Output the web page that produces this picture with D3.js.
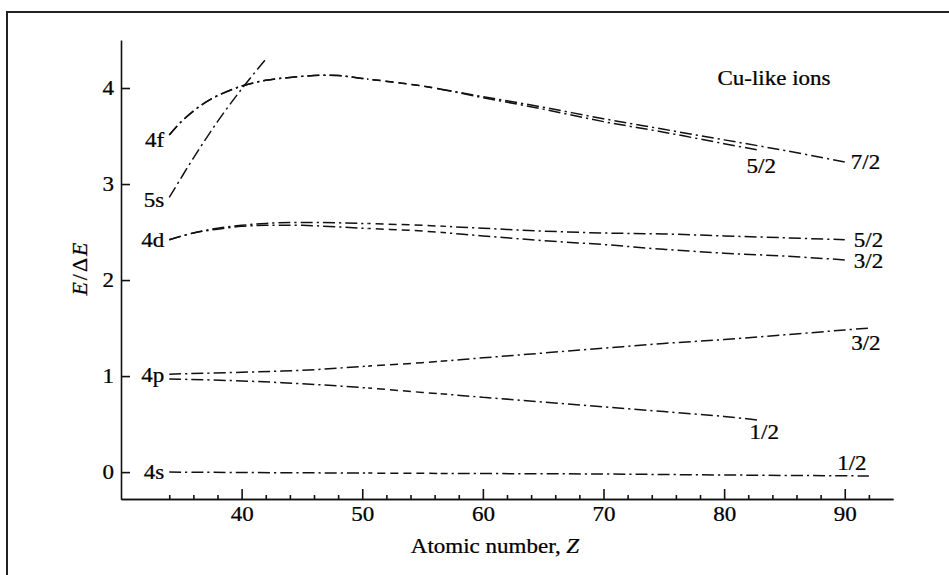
<!DOCTYPE html>
<html lang="en">
<head>
<meta charset="UTF-8">
<title>Cu-like ions</title>
<script src="https://d3js.org/d3.v7.min.js"></script>
<style>
    body { margin: 0; background: #fff; }
    svg { display: block; font-family: "Liberation Serif", "DejaVu Serif", serif; }
    .frame { fill: none; stroke: #222; stroke-width: 2px; }
    .curve { fill: none; stroke: #111; stroke-width: 1.5px; }
    .dashdot { stroke-dasharray: 12,4,2.2,4; }
    .dashed { stroke-dasharray: 8,5; }
    .axis path, .axis line { stroke: #111; stroke-width: 1.6px; }
    .axis text { font-size: 20px; fill: #000; stroke: #000; stroke-width: 0.25px; font-family: "Liberation Serif", serif; }
    .lbl { font-size: 20px; fill: #000; stroke: #000; stroke-width: 0.25px; }
</style>
</head>
<body>
<svg id="chart"></svg>
<script>
    const width = 949, height = 575;

    // values (Z, E/ΔE)
    const z4f = [34, 35, 36, 37, 38, 40, 42, 44, 46, 48, 50, 55, 60, 65, 70, 75, 80, 85, 90];
    const e4f72 = [3.51, 3.65, 3.76, 3.85, 3.92, 4.02, 4.08, 4.11, 4.13, 4.13, 4.10, 4.02, 3.91, 3.80, 3.68, 3.57, 3.46, 3.35, 3.23];
    const z4f52 = [34, 35, 36, 37, 38, 40, 42, 44, 46, 48, 50, 55, 60, 65, 70, 75, 80, 83];
    const e4f52 = [3.51, 3.65, 3.76, 3.85, 3.92, 4.02, 4.08, 4.11, 4.13, 4.13, 4.10, 4.02, 3.90, 3.78, 3.65, 3.54, 3.42, 3.35];
    const z5s = [34, 36, 38, 40, 42];
    const e5s = [2.86, 3.27, 3.65, 3.99, 4.30];
    const z4d = [34, 36, 38, 40, 42, 45, 50, 55, 60, 65, 70, 75, 80, 85, 90];
    const e4d52 = [2.42, 2.49, 2.54, 2.57, 2.59, 2.60, 2.59, 2.57, 2.54, 2.51, 2.49, 2.48, 2.46, 2.44, 2.42];
    const e4d32 = [2.42, 2.49, 2.53, 2.56, 2.57, 2.57, 2.54, 2.51, 2.46, 2.41, 2.37, 2.32, 2.28, 2.25, 2.21];
    const z4p32 = [34, 40, 45, 50, 55, 60, 65, 70, 75, 80, 85, 90, 92];
    const e4p32 = [1.02, 1.04, 1.06, 1.10, 1.14, 1.19, 1.24, 1.29, 1.34, 1.38, 1.43, 1.48, 1.50];
    const z4p12 = [34, 40, 45, 50, 55, 60, 65, 70, 75, 80, 83];
    const e4p12 = [0.97, 0.95, 0.92, 0.88, 0.83, 0.78, 0.73, 0.68, 0.63, 0.58, 0.54];
    const z4s = [34, 50, 60, 70, 80, 92];
    const e4s = [0, -0.01, -0.015, -0.02, -0.03, -0.04];

    const majorTicks = [40, 50, 60, 70, 80, 90];
    const minorTicks = d3.range(34, 93, 2).filter(d => d % 10 !== 0);
    const yTicks = [0, 1, 2, 3, 4];

    const series = [
        { z: z4f, e: e4f72, left: "4f", right: "7/2" },
        { z: z4f52, e: e4f52, left: null, right: "5/2" },
        { z: z5s, e: e5s, left: "5s", right: null },
        { z: z4d, e: e4d52, left: "4d", right: "5/2" },
        { z: z4d, e: e4d32, left: null, right: "3/2" },
        { z: z4p32, e: e4p32, left: "4p", right: "3/2" },
        { z: z4p12, e: e4p12, left: null, right: "1/2" },
        { z: z4s, e: e4s, left: "4s", right: "1/2" }
    ];

    const x = d3.scaleLinear().domain([30, 94]).range([121, 893]);
    const y = d3.scaleLinear().domain([-0.28, 4.5]).range([499, 40]);

    const stretch = "scale(1.15,1)";

    const svg = d3.select("#chart").attr("width", width).attr("height", height);

    svg.append("rect").attr("class", "frame")
        .attr("x", 7).attr("y", 12).attr("width", 1000).attr("height", 1000);

    // axes
    const yAxis = svg.append("g").attr("class", "axis")
        .attr("transform", `translate(${x(30)},0)`)
        .call(d3.axisLeft(y).tickValues(yTicks).tickFormat(d3.format("d"))
            .tickSizeInner(-9).tickSizeOuter(0).tickPadding(6));
    yAxis.selectAll("text").attr("transform", stretch);

    svg.append("g").attr("class", "axis")
        .attr("transform", `translate(0,${y(-0.28)})`)
        .call(d3.axisBottom(x).tickValues(minorTicks).tickFormat("")
            .tickSizeInner(-4).tickSizeOuter(0));
    const xAxis = svg.append("g").attr("class", "axis")
        .attr("transform", `translate(0,${y(-0.28)})`)
        .call(d3.axisBottom(x).tickValues(majorTicks)
            .tickSizeInner(-10).tickSizeOuter(0).tickPadding(8));
    xAxis.selectAll("text").attr("transform", stretch);

    // axis titles
    const xt = svg.append("text").attr("class", "lbl")
        .attr("text-anchor", "middle")
        .attr("transform", `translate(495,553) ${stretch}`);
    xt.append("tspan").text("Atomic number, ");
    xt.append("tspan").attr("font-style", "italic").text("Z");

    const yt = svg.append("text").attr("class", "lbl")
        .attr("text-anchor", "middle")
        .attr("transform", "translate(87,268) rotate(-90)")
        .style("font-size", "22px")
        .style("letter-spacing", "2px");
    yt.append("tspan").attr("font-style", "italic").text("E");
    yt.append("tspan").text("/Δ");
    yt.append("tspan").attr("font-style", "italic").text("E");

    svg.append("text").attr("class", "lbl")
        .attr("text-anchor", "middle")
        .attr("dy", "0.35em")
        .attr("transform", `translate(774,78) ${stretch}`)
        .text("Cu-like ions");

    // curves: dash-dot everywhere except a plain dashed stretch in the middle
    const line = d3.line()
        .x(d => x(d[0]))
        .y(d => y(d[1]))
        .curve(d3.curveCatmullRom.alpha(0.5));

    const defs = svg.append("defs");
    const clips = [
        { id: "clipA", from: 30, to: 50.5, cls: "dashdot" },
        { id: "clipB", from: 50.5, to: 56.5, cls: "dashed" },
        { id: "clipC", from: 56.5, to: 94, cls: "dashdot" }
    ];
    clips.forEach(c => {
        defs.append("clipPath").attr("id", c.id)
            .append("rect")
            .attr("x", x(c.from)).attr("y", 0)
            .attr("width", x(c.to) - x(c.from)).attr("height", height);
    });

    clips.forEach(c => {
        svg.append("g").attr("clip-path", `url(#${c.id})`)
            .selectAll("path")
            .data(series)
            .join("path")
            .attr("class", `curve ${c.cls}`)
            .attr("d", s => line(s.z.map((z, i) => [z, s.e[i]])));
    });

    // level labels
    const leftShift = [5, 0, 3, 0, 0, 1, 0, 0];
    const rightPlace = [
        { dx: 6, dy: 0, anchor: "start" },
        { dx: 1, dy: 16, anchor: "middle" },
        null,
        { dx: 9, dy: 0, anchor: "start" },
        { dx: 9, dy: 1, anchor: "start" },
        { dx: -3, dy: 15, anchor: "middle" },
        { dx: 4, dy: 12, anchor: "middle" },
        { dx: -17, dy: -13, anchor: "middle" }
    ];

    series.forEach((s, i) => {
        if (s.left) {
            svg.append("text").attr("class", "lbl")
                .attr("text-anchor", "end").attr("dy", "0.35em")
                .attr("transform", `translate(${x(s.z[0]) - 5},${y(s.e[0]) + leftShift[i]}) ${stretch}`)
                .text(s.left);
        }
        if (s.right) {
            const n = s.z.length - 1, p = rightPlace[i];
            svg.append("text").attr("class", "lbl")
                .attr("text-anchor", p.anchor).attr("dy", "0.35em")
                .attr("transform", `translate(${x(s.z[n]) + p.dx},${y(s.e[n]) + p.dy}) ${stretch}`)
                .text(s.right);
        }
    });
</script>
</body>
</html>
